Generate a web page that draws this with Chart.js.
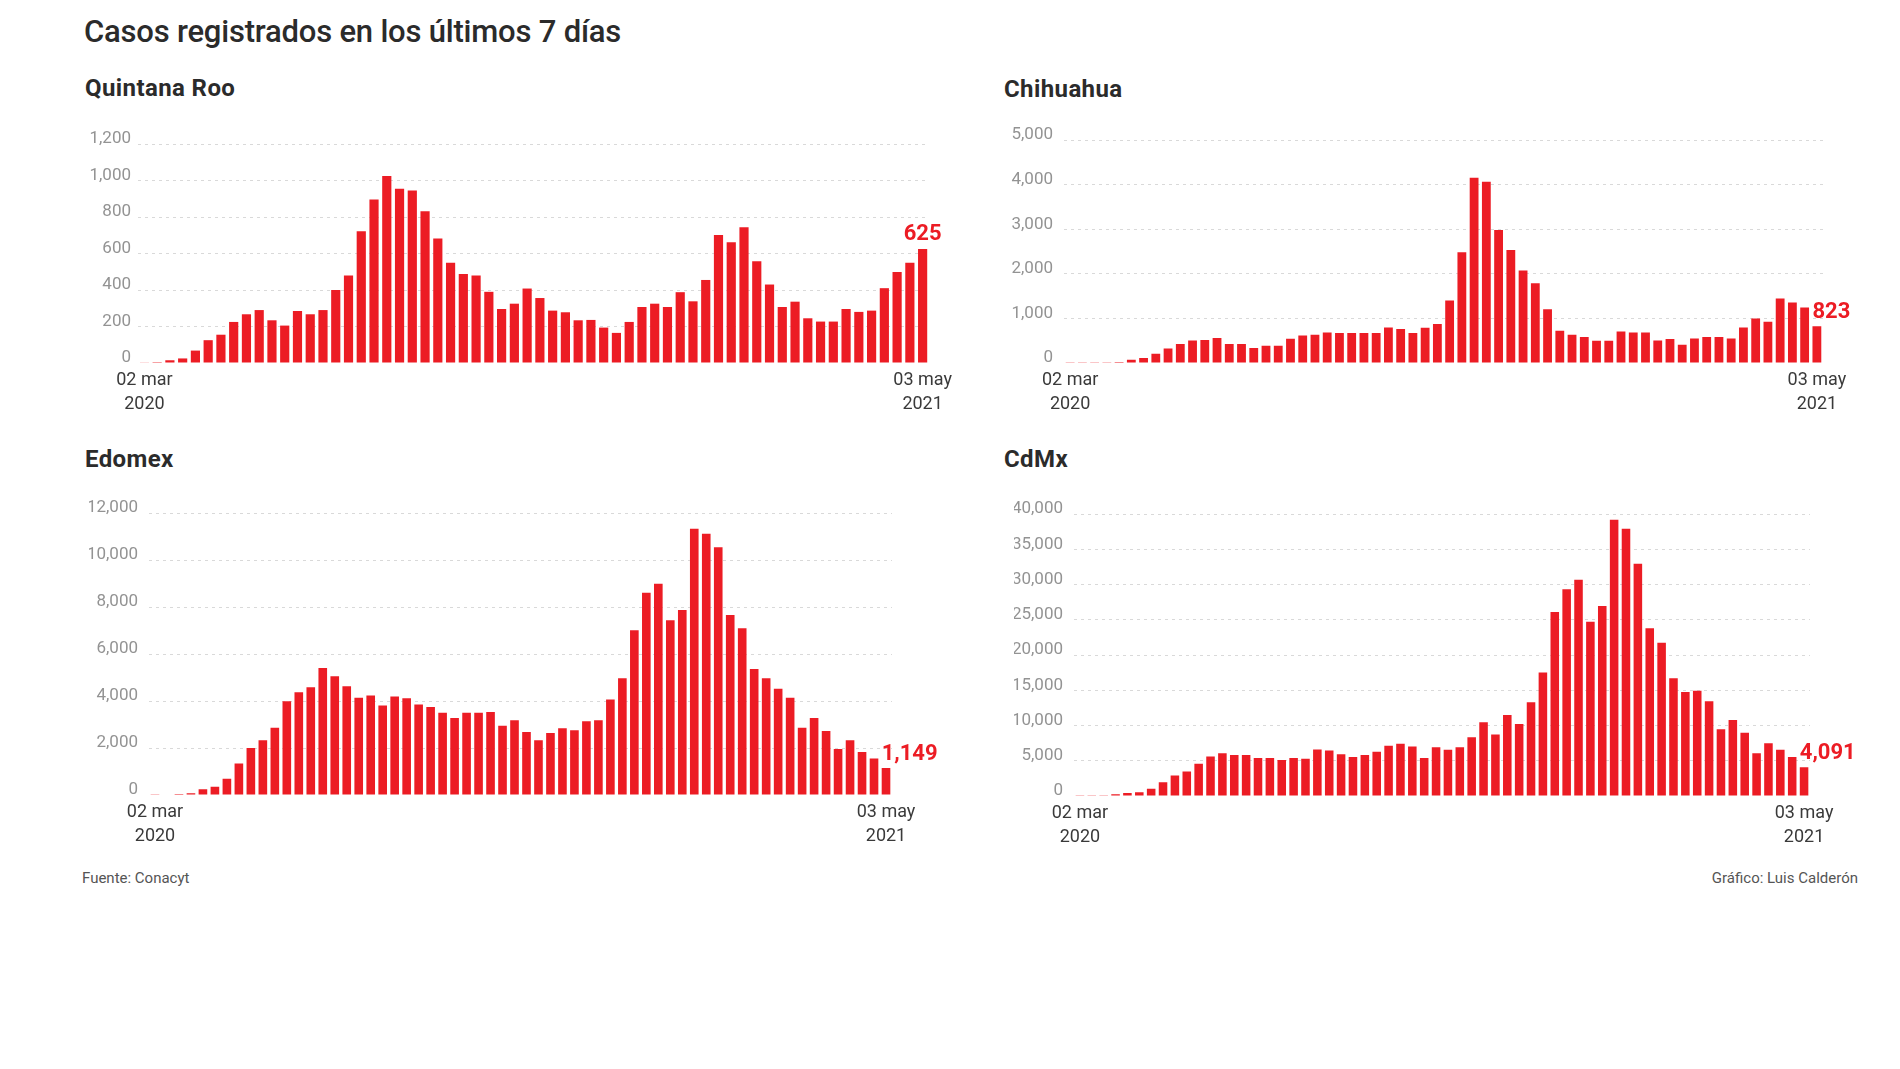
<!DOCTYPE html>
<html lang="es">
<head>
<meta charset="utf-8">
<title>Casos registrados en los últimos 7 días</title>
<script src="https://cdn.jsdelivr.net/npm/chart.js@4.4.1/dist/chart.umd.min.js"></script>
<style>
    body { margin: 0; background: #fff; width: 1900px; height: 1069px; position: relative; overflow: hidden; font-family: Roboto, 'Open Sans', sans-serif; }
    h1 { position: absolute; left: 84px; top: 16px; margin: 0; font-size: 31px; line-height: 1; font-weight: 500; color: #2b2b2b; letter-spacing: -0.2px; }
    .sub { position: absolute; margin: 0; font-size: 24px; line-height: 1; font-weight: bold; color: #2b2b2b; letter-spacing: 0.4px; }
    .foot { position: absolute; top: 871px; font-size: 15px; line-height: 1; color: #555; }
    canvas { position: absolute; }
</style>
</head>
<body>
<h1>Casos registrados en los últimos 7 días</h1>
<div class="foot" style="left:82px">Fuente: Conacyt</div>
<div class="foot" style="right:42px">Gráfico: Luis Calderón</div>

<script>
// weekly cases, 02 mar 2020 .. 03 may 2021 (62 weeks)
const quintanaRoo = [2, 5, 15, 25, 68, 125, 155, 225, 267, 290,
    234, 205, 285, 267, 290, 400, 480, 722, 896, 1024,
    955, 945, 832, 682, 550, 488, 480, 390, 296, 325,
    408, 356, 287, 278, 234, 236, 194, 165, 225, 307,
    325, 307, 388, 338, 455, 702, 662, 744, 558, 430,
    307, 336, 245, 227, 227, 296, 280, 287, 410, 499,
    550, 625];

const chihuahua = [3, 5, 15, 18, 22, 75, 112, 209, 328, 425,
    507, 515, 560, 425, 425, 336, 388, 388, 545, 619,
    634, 687, 672, 672, 672, 672, 798, 761, 672, 791,
    873, 1403, 2485, 4157, 4067, 2985, 2537, 2075, 1791, 1209,
    724, 634, 582, 500, 500, 709, 687, 687, 507, 537,
    410, 552, 582, 582, 552, 798, 1000, 925, 1448, 1358,
    1246, 823];

const edomex = [10, 20, 40, 70, 240, 353, 692, 1342, 2006, 2331,
    2867, 3997, 4379, 4590, 5410, 5056, 4633, 4138, 4237, 3814,
    4195, 4124, 3856, 3743, 3503, 3277, 3503, 3503, 3531, 2952,
    3178, 2684, 2331, 2641, 2839, 2754, 3136, 3178, 4068, 4972,
    7020, 8616, 8997, 7444, 7881, 11342, 11130, 10551, 7670, 7105,
    5367, 4972, 4520, 4138, 2867, 3277, 2726, 1963, 2331, 1836,
    1554, 1149];

const cdmx = [20, 50, 100, 236, 425, 519, 1038, 1934, 2925, 3491,
    4575, 5613, 6085, 5802, 5802, 5377, 5377, 5094, 5377, 5283,
    6604, 6462, 5943, 5519, 5802, 6274, 7123, 7406, 7028, 5377,
    6934, 6557, 6934, 8349, 10472, 8726, 11509, 10236, 13302, 17547,
    26132, 29340, 30708, 24717, 26981, 39198, 37925, 32972, 23821, 21745,
    16698, 14764, 14953, 13443, 9481, 10802, 8962, 6085, 7500, 6557,
    5519, 4091];

const firstTick = ['02 mar', '2020'];
const lastTick = ['03 may', '2021'];

const yMax = [1200, 5000, 12000, 40000];
const yStep = [200, 1000, 2000, 5000];

// week start dates as categories
const categories = [];
const start = Date.UTC(2020, 2, 2);
for (let i = 0; i < quintanaRoo.length; i++) {
    categories.push(new Date(start + i * 7 * 86400000).toISOString().slice(0, 10));
}

const RED = '#ec1c24';
const AXIS_W = 60, PAD_TOP = 20, PAD_RIGHT = 70, XAXIS_H = 72;

const panels = [
    { name: 'Quintana Roo', data: quintanaRoo, max: yMax[0], step: yStep[0], align: 'center',
      titleX: 85, titleY: 76, left: 138, top: 144, w: 791, h: 219, tickPad: 7 },
    { name: 'Chihuahua', data: chihuahua, max: yMax[1], step: yStep[1], align: 'left',
      titleX: 1004, titleY: 77, left: 1064, top: 139, w: 759, h: 224, tickPad: 11 },
    { name: 'Edomex', data: edomex, max: yMax[2], step: yStep[2], align: 'left',
      titleX: 85, titleY: 447, left: 149, top: 512, w: 743, h: 283, tickPad: 11 },
    { name: 'CdMx', data: cdmx, max: yMax[3], step: yStep[3], align: 'left',
      titleX: 1004, titleY: 447, left: 1074, top: 513, w: 736, h: 283, tickPad: 11 }
];

// bold red number next to the last bar
const lastValueLabel = {
    id: 'lastValueLabel',
    afterDatasetsDraw(chart, args, opts) {
        const meta = chart.getDatasetMeta(0);
        const bar = meta.data[meta.data.length - 1];
        const values = chart.data.datasets[0].data;
        const ctx = chart.ctx;
        ctx.save();
        ctx.font = 'bold 22px Roboto, sans-serif';
        ctx.fillStyle = RED;
        ctx.textBaseline = 'middle';
        let x = bar.x;
        if (opts.align === 'center') {
            ctx.textAlign = 'center';
        } else {
            ctx.textAlign = 'left';
            x = bar.x - bar.width / 2;
        }
        ctx.fillText(values[values.length - 1].toLocaleString('en-US'), x, bar.y - 14);
        ctx.restore();
    }
};

panels.forEach(function(p) {
    const title = document.createElement('div');
    title.className = 'sub';
    title.textContent = p.name;
    title.style.left = p.titleX + 'px';
    title.style.top = p.titleY + 'px';
    document.body.appendChild(title);

    const canvas = document.createElement('canvas');
    canvas.width = AXIS_W + p.w + PAD_RIGHT;
    canvas.height = PAD_TOP + p.h + XAXIS_H;
    canvas.style.left = (p.left - AXIS_W) + 'px';
    canvas.style.top = (p.top - PAD_TOP) + 'px';
    document.body.appendChild(canvas);

    new Chart(canvas.getContext('2d'), {
        type: 'bar',
        data: {
            labels: categories,
            datasets: [{
                label: p.name,
                data: p.data,
                backgroundColor: RED,
                barPercentage: 0.72,
                categoryPercentage: 1
            }]
        },
        options: {
            responsive: false,
            animation: false,
            layout: { padding: { top: PAD_TOP, right: PAD_RIGHT, left: 0, bottom: 0 } },
            plugins: {
                legend: { display: false },
                tooltip: { enabled: false },
                lastValueLabel: { align: p.align }
            },
            scales: {
                x: {
                    offset: true,
                    grid: { display: false },
                    border: { display: false },
                    ticks: {
                        autoSkip: false,
                        maxRotation: 0,
                        minRotation: 0,
                        padding: -2,
                        color: '#3a3a3a',
                        font: { family: 'Roboto', size: 18, lineHeight: 1.32 },
                        callback: function(v, i, ticks) {
                            if (i === 0) return firstTick;
                            if (i === ticks.length - 1) return lastTick;
                            return '';
                        }
                    },
                    afterFit: function(scale) { scale.height = XAXIS_H; }
                },
                y: {
                    min: 0,
                    max: p.max,
                    grid: {
                        drawTicks: false,
                        lineWidth: 1,
                        color: ctx => ctx.tick && ctx.tick.value === 0 ? 'rgba(0,0,0,0)' : '#d9d9d9',
                        borderDash: [3, 4]
                    },
                    border: { display: false, dash: [3, 4] },
                    ticks: {
                        stepSize: p.step,
                        padding: p.tickPad,
                        labelOffset: -5,
                        color: '#939393',
                        font: { family: 'Roboto', size: 17 },
                        callback: v => v.toLocaleString('en-US')
                    },
                    afterFit: function(scale) { scale.width = AXIS_W; }
                }
            }
        },
        plugins: [lastValueLabel]
    });
});
</script>
</body>
</html>
